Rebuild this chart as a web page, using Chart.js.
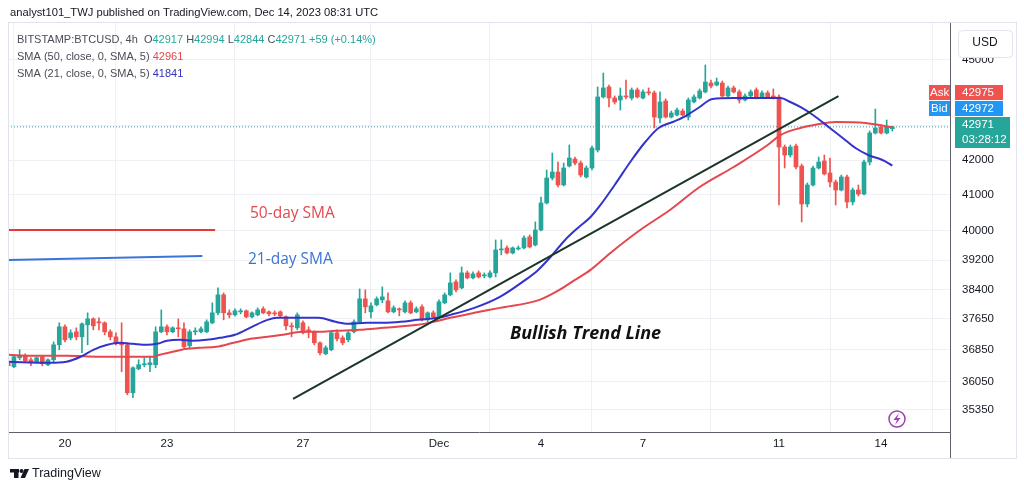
<!DOCTYPE html>
<html>
<head>
<meta charset="utf-8">
<script src="https://cdn.jsdelivr.net/npm/chart.js@4.4.1/dist/chart.umd.min.js"></script>
<style>
  html, body { margin: 0; padding: 0; background: #ffffff; }
  #wrap { width: 1024px; height: 491px; position: relative; }
</style>
</head>
<body>
<div id="wrap"><canvas id="btcChart"></canvas></div>
<script>
// BTCUSD 4h candles, Nov 18 08:00 .. Dec 14 08:00 (hours from Nov 20 00:00)
const startHour = -40;
const stepHours = 4;

const opens = [
  36544, 36418, 36645, 36695, 36594, 36544, 36670, 36469, 36594, 36974,
  37436, 37152, 37307, 37178, 37487, 37642, 37564, 37539, 37307, 37178,
  37025, 36974, 35771, 36368, 36469, 36469, 36469, 37307, 37436, 37307,
  37410, 37384, 36949, 37307, 37307, 37307, 37539, 37798, 38270, 37798,
  37746, 37824, 37850, 37694, 37746, 37902, 37824, 37798, 37824, 37694,
  37461, 37410, 37539, 37358, 37307, 37025, 36746, 36847, 37281, 37152,
  37101, 37307, 37564, 38164, 37824, 38007, 38138, 38112, 37824, 37902,
  37824, 38059, 37824, 37955, 37616, 37798, 37694, 38059, 38270, 38614,
  38454, 38854, 38720, 38854, 38774, 38747, 38854, 39474, 39529, 39393,
  39501, 39529, 39830, 39610, 40022, 40774, 41482, 41654, 41283, 41827,
  42029, 41913, 41511, 41769, 42290, 43867, 44170, 43836, 43775, 43897,
  43836, 44080, 43836, 44019, 43989, 43235, 43745, 43264, 43324, 43443,
  43264, 43715, 43836, 44019, 44290, 44230, 44290, 43897, 44140, 44019,
  43775, 43897, 44080, 43867, 43989, 43897, 43867, 42378, 42145, 42407,
  41827, 40746, 41283, 41769, 41971, 41625, 41368, 41140, 41511, 40802,
  41140, 41027, 41942, 42790, 42967, 42790, 42917
];
const highs = [
  36645, 36720, 36847, 36746, 36645, 36670, 36695, 36619, 37050, 37539,
  37487, 37358, 37410, 37539, 37798, 37668, 37668, 37564, 37358, 37281,
  37539, 37025, 36418, 36594, 36645, 36670, 37436, 37876, 37487, 37436,
  37642, 37539, 37358, 37410, 37436, 37616, 38059, 38454, 38322, 37876,
  37902, 37902, 37876, 37824, 37928, 37955, 37850, 37850, 37850, 37720,
  37539, 37798, 37590, 37436, 37332, 37050, 36949, 37307, 37358, 37204,
  37332, 37616, 38427, 38401, 38059, 38217, 38481, 38322, 37981, 37928,
  38112, 38112, 37955, 38007, 37824, 37850, 38138, 38322, 38854, 38667,
  39015, 38907, 38881, 38907, 38854, 38907, 39747, 39747, 39583, 39556,
  39583, 39857, 39885, 40244, 40943, 41711, 42203, 41942, 41913, 42437,
  42087, 41971, 41827, 42407, 44170, 44597, 44230, 43897, 44140, 44380,
  44140, 44140, 44080, 44140, 44050, 44019, 43806, 43443, 43533, 43503,
  43836, 43928, 44110, 44845, 44380, 44442, 44350, 44200, 44200, 44080,
  43958, 44080, 44140, 44050, 44050, 44110, 43928, 42437, 42437, 42466,
  41884, 41340, 41827, 42087, 42145, 42058, 41425, 41568, 41568, 41197,
  41283, 42000, 42849, 43503, 43027, 43175, 42994
];
const lows = [
  36443, 36393, 36594, 36519, 36443, 36519, 36443, 36443, 36544, 36847,
  37050, 37101, 37101, 36771, 36974, 37358, 37358, 37230, 37101, 36974,
  36293, 35722, 35648, 36343, 36418, 36293, 36393, 37281, 37230, 37281,
  37178, 36898, 36898, 37230, 37281, 37281, 37513, 37746, 37616, 37668,
  37720, 37772, 37668, 37668, 37720, 37772, 37720, 37720, 37694, 37358,
  37178, 37358, 37255, 37152, 36974, 36720, 36720, 36822, 37076, 36974,
  37050, 37281, 37539, 37798, 37668, 37981, 38059, 37798, 37798, 37720,
  37798, 37772, 37798, 37590, 37564, 37668, 37668, 38033, 38243, 38348,
  38427, 38694, 38694, 38720, 38720, 38720, 38747, 39339, 39366, 39366,
  39474, 39501, 39529, 39583, 39995, 40746, 41425, 41225, 41254, 41798,
  41856, 41511, 41482, 41711, 42232, 43836, 43564, 43654, 43473, 43806,
  43775, 43836, 43806, 43928, 42938, 43086, 43235, 43235, 43294, 43294,
  43175, 43684, 43806, 43989, 44140, 44200, 43867, 43867, 43989, 43684,
  43745, 43867, 43806, 43836, 43836, 43806, 40718, 41769, 42087, 41740,
  40244, 40662, 41254, 41740, 41568, 41225, 40718, 41112, 40633, 40718,
  40971, 40999, 41856, 42760, 42760, 42760, 42844
];
const closes = [
  36443, 36670, 36695, 36569, 36519, 36645, 36494, 36594, 36974, 37436,
  37101, 37281, 37178, 37513, 37642, 37461, 37539, 37307, 37178, 37025,
  36974, 35771, 36393, 36469, 36494, 36519, 37307, 37436, 37307, 37410,
  37384, 36923, 37307, 37332, 37384, 37564, 37798, 38270, 37798, 37746,
  37850, 37850, 37694, 37798, 37876, 37798, 37772, 37772, 37720, 37461,
  37436, 37746, 37281, 37307, 37025, 36771, 36898, 37281, 37127, 37025,
  37281, 37564, 38164, 37955, 37981, 38164, 38217, 37824, 37928, 37876,
  38059, 37798, 37902, 37616, 37798, 37694, 38086, 38270, 38587, 38401,
  38854, 38720, 38827, 38747, 38800, 38854, 39474, 39501, 39393, 39529,
  39529, 39802, 39556, 40022, 40774, 41482, 41654, 41283, 41769, 42058,
  41913, 41568, 41769, 42349, 43867, 44140, 43836, 43715, 43897, 43867,
  44080, 43867, 44019, 43989, 43264, 43715, 43264, 43384, 43473, 43324,
  43775, 43867, 44050, 44320, 44200, 44320, 43897, 44140, 44019, 43775,
  43897, 44019, 43836, 43989, 43867, 43867, 42378, 42145, 42378, 41798,
  40746, 41283, 41769, 41942, 41597, 41368, 41140, 41511, 40802, 41140,
  41027, 41942, 42790, 42938, 42790, 42967, 42971
];

// SMA 21 (blue) and SMA 50 (red)
const sma21Hours = [-40, -11, 1, 11, 20, 30, 39, 48, 58, 65,
  72, 81, 90, 100, 109, 120, 132, 143, 150, 167,
  179, 191, 200, 213, 225, 237, 249, 263, 272, 289,
  307, 325, 334, 344, 353, 362, 371, 378, 388, 400,
  409, 419, 429, 438, 447, 457, 472, 496, 505, 512,
  519, 528, 539, 549, 558, 567, 577, 584];
const sma21Values = [36544, 36519, 36544, 36670, 36847, 36974, 37025, 36999, 36974, 36999,
  37076, 37101, 37076, 37101, 37152, 37230, 37436, 37616, 37668, 37668,
  37668, 37564, 37513, 37539, 37539, 37564, 37616, 37668, 37746, 37928,
  38217, 38667, 38934, 39339, 39747, 40077, 40382, 40718, 41283, 42000,
  42495, 42938, 43116, 43294, 43533, 43806, 43836, 43836, 43836, 43715,
  43564, 43324, 42967, 42642, 42349, 42145, 42000, 41841];
const sma50Hours = [-40, -23, 1, 25, 48, 62, 67, 76, 86, 95,
  107, 119, 131, 143, 154, 167, 179, 191, 208, 225,
  249, 260, 272, 289, 307, 335, 349, 360, 371, 385,
  406, 427, 448, 472, 496, 505, 519, 529, 544, 565, 584];
const sma50Values = [36720, 36695, 36695, 36670, 36670, 36670, 36720, 36796, 36872, 36898,
  36923, 37025, 37127, 37178, 37230, 37307, 37307, 37332, 37358, 37410,
  37487, 37564, 37668, 37798, 37928, 38138, 38400, 38667, 38934, 39393,
  40022, 40577, 41225, 41798, 42437, 42730, 42938, 43027, 43116, 43086, 42961];

// drawn-on lines
const trendHours = [161, 546];
const trendValues = [35618, 43895];
const note50Hours = [-41, 106];
const note50Values = [40022, 40022];
const note21Hours = [-41, 97];
const note21Values = [39203, 39310];

// axes
const dayTickHours = [0, 72, 168, 264, 336, 408, 504, 576];
const dayTickLabels = ["20", "23", "27", "Dec", "4", "7", "11", "14"];
const priceTicks = [35350, 36050, 36850, 37650, 38400, 39200, 40000, 41000, 42000, 43000, 45000];
const hiddenPriceTicks = [43000];

const GREEN = "#26a69a";
const RED = "#ef5350";

const last = closes.length - 1;
const candleX = opens.map((o, i) => startHour + i * stepHours);
const isUp = opens.map((o, i) => closes[i] >= o);
const candleColors = isUp.map(u => (u ? GREEN : RED));

const bodyData = opens.map((o, i) => ({ x: candleX[i], y: [Math.min(o, closes[i]), Math.max(o, closes[i])] }));
const wickData = opens.map((o, i) => ({ x: candleX[i], y: [lows[i], highs[i]] }));
const toPoints = (xs, ys) => xs.map((x, i) => ({ x: x, y: ys[i] }));

function drawRuns(ctx, x, y, runs) {
    runs.forEach(r => {
        ctx.fillStyle = r[1];
        ctx.fillText(r[0], x, y);
        x += ctx.measureText(r[0]).width;
    });
}

function roundRect(ctx, x, y, w, h, r) {
    ctx.beginPath();
    ctx.moveTo(x + r, y);
    ctx.lineTo(x + w - r, y);
    ctx.quadraticCurveTo(x + w, y, x + w, y + r);
    ctx.lineTo(x + w, y + h - r);
    ctx.quadraticCurveTo(x + w, y + h, x + w - r, y + h);
    ctx.lineTo(x + r, y + h);
    ctx.quadraticCurveTo(x, y + h, x, y + h - r);
    ctx.lineTo(x, y + r);
    ctx.quadraticCurveTo(x, y, x + r, y);
    ctx.closePath();
}

const priceLinePlugin = {
    id: "priceLine",
    beforeDatasetsDraw(chart) {
        const ctx = chart.ctx;
        const area = chart.chartArea;
        const y = chart.scales.y.getPixelForValue(closes[last]);
        ctx.save();
        ctx.strokeStyle = "#3c96b4";
        ctx.lineWidth = 1;
        ctx.setLineDash([1, 2]);
        ctx.beginPath();
        ctx.moveTo(area.left, y);
        ctx.lineTo(area.right, y);
        ctx.stroke();
        ctx.restore();
    }
};

const decorPlugin = {
    id: "decor",
    afterDraw(chart) {
        const ctx = chart.ctx;
        const area = chart.chartArea;
        ctx.save();

        // outer frame and axis separator through the time row
        ctx.strokeStyle = "#e0e3eb";
        ctx.lineWidth = 1;
        ctx.strokeRect(8.5, 22.5, 1008, 436);
        ctx.strokeStyle = "#5d606b";
        ctx.beginPath();
        ctx.moveTo(area.right + 0.5, area.bottom);
        ctx.lineTo(area.right + 0.5, 458);
        ctx.stroke();

        // header
        ctx.textBaseline = "middle";
        ctx.font = "11.2px 'Liberation Sans', Arial, sans-serif";
        ctx.fillStyle = "#131722";
        ctx.fillText("analyst101_TWJ published on TradingView.com, Dec 14, 2023 08:31 UTC", 10, 13);

        // legend
        const gray = "#4a4d57";
        const teal = "#26a69a";
        ctx.font = "11px 'Liberation Sans', Arial, sans-serif";
        drawRuns(ctx, 17, 40, [
            ["BITSTAMP:BTCUSD, 4h  O", gray], [String(opens[last]), teal],
            [" H", gray], [String(highs[last]), teal],
            [" L", gray], [String(lows[last]), teal],
            [" C", gray], [String(closes[last]), teal],
            [" +59 (+0.14%)", teal]
        ]);
        drawRuns(ctx, 17, 57, [["SMA (50, close, 0, SMA, 5) ", gray], [String(sma50Values[sma50Values.length - 1]), "#e4474d"]]);
        drawRuns(ctx, 17, 74, [["SMA (21, close, 0, SMA, 5) ", gray], [String(sma21Values[sma21Values.length - 1]), "#3333bb"]]);

        // annotations
        ctx.font = "15.5px 'Open Sans', sans-serif";
        ctx.fillStyle = "#e04a4f";
        ctx.fillText("50-day SMA", 250, 214);
        ctx.fillStyle = "#3c74d6";
        ctx.fillText("21-day SMA", 248, 260);
        ctx.font = "italic bold 18px 'Open Sans', sans-serif";
        ctx.fillStyle = "#111111";
        ctx.fillText("Bullish Trend Line", 510, 334);

        // USD button
        ctx.fillStyle = "#ffffff";
        roundRect(ctx, 958.5, 30.5, 54, 27, 4);
        ctx.fill();
        ctx.strokeStyle = "#e0e3eb";
        ctx.stroke();
        ctx.fillStyle = "#131722";
        ctx.font = "12px 'Liberation Sans', Arial, sans-serif";
        ctx.textAlign = "center";
        ctx.fillText("USD", 985, 43);

        // price labels
        ctx.font = "11.5px 'Liberation Sans', Arial, sans-serif";
        ctx.textAlign = "left";
        ctx.fillStyle = "#ef5350";
        ctx.fillRect(929, 85, 21, 15);
        ctx.fillRect(955, 85, 48, 15);
        ctx.fillStyle = "#2196f3";
        ctx.fillRect(929, 101, 21, 15);
        ctx.fillRect(955, 101, 48, 15);
        ctx.fillStyle = GREEN;
        ctx.fillRect(955, 117, 55, 31);
        ctx.fillStyle = "#ffffff";
        ctx.fillText("Ask", 930, 93);
        ctx.fillText("42975", 962, 93);
        ctx.fillText("Bid", 931, 109);
        ctx.fillText("42972", 962, 109);
        ctx.fillText(String(closes[last]), 962, 125);
        ctx.fillText("03:28:12", 962, 140);

        // lightning badge
        ctx.strokeStyle = "#9c3fb0";
        ctx.lineWidth = 1.5;
        ctx.beginPath();
        ctx.arc(897, 419, 8, 0, Math.PI * 2);
        ctx.stroke();
        ctx.fillStyle = "#9c3fb0";
        ctx.beginPath();
        ctx.moveTo(899, 413);
        ctx.lineTo(893.5, 420);
        ctx.lineTo(897, 420);
        ctx.lineTo(895, 425);
        ctx.lineTo(900.5, 418);
        ctx.lineTo(897, 418);
        ctx.closePath();
        ctx.fill();

        // TradingView logo
        ctx.fillStyle = "#131722";
        ctx.fillRect(10, 469, 9, 3.5);
        ctx.fillRect(14, 469, 4.5, 9);
        ctx.beginPath();
        ctx.arc(21.5, 471, 2, 0, Math.PI * 2);
        ctx.fill();
        ctx.beginPath();
        ctx.moveTo(24.5, 469);
        ctx.lineTo(29, 469);
        ctx.lineTo(25, 478);
        ctx.lineTo(20.5, 478);
        ctx.closePath();
        ctx.fill();
        ctx.font = "12.5px 'Liberation Sans', Arial, sans-serif";
        ctx.fillText("TradingView", 32, 474);

        ctx.restore();
    }
};

function renderChart() {
    const ctx = document.getElementById("btcChart").getContext("2d");
    new Chart(ctx, {
        type: "bar",
        data: {
            datasets: [
                {
                    type: "line", label: "Trend", data: toPoints(trendHours, trendValues),
                    borderColor: "#1b3529", borderWidth: 2, pointRadius: 0, order: 0
                },
                {
                    type: "line", label: "SMA 21", data: toPoints(sma21Hours, sma21Values),
                    borderColor: "#3333cc", borderWidth: 2, pointRadius: 0,
                    cubicInterpolationMode: "monotone", order: 1
                },
                {
                    type: "line", label: "SMA 50", data: toPoints(sma50Hours, sma50Values),
                    borderColor: "#e4474d", borderWidth: 2, pointRadius: 0,
                    cubicInterpolationMode: "monotone", order: 2
                },
                {
                    type: "line", label: "50-day note", data: toPoints(note50Hours, note50Values),
                    borderColor: "#e53935", borderWidth: 2, pointRadius: 0, order: 1
                },
                {
                    type: "line", label: "21-day note", data: toPoints(note21Hours, note21Values),
                    borderColor: "#3c74d6", borderWidth: 2, pointRadius: 0, order: 1
                },
                {
                    label: "Body", data: bodyData, backgroundColor: candleColors,
                    barThickness: 4, minBarLength: 1, grouped: false, order: 4
                },
                {
                    label: "Wick", data: wickData, backgroundColor: candleColors,
                    barThickness: 1, grouped: false, order: 5
                }
            ]
        },
        options: {
            responsive: true,
            maintainAspectRatio: false,
            animation: false,
            layout: { padding: { left: 8, top: 22, right: 0, bottom: 33 } },
            plugins: {
                legend: { display: false },
                tooltip: { enabled: false }
            },
            scales: {
                x: {
                    type: "linear",
                    min: -40.2,
                    max: 624.7,
                    offset: false,
                    afterBuildTicks: axis => { axis.ticks = dayTickHours.map(v => ({ value: v })); },
                    afterFit: axis => { axis.height = 26; },
                    ticks: {
                        autoSkip: false,
                        maxRotation: 0,
                        padding: 5,
                        color: "#131722",
                        font: { family: "'Liberation Sans', Arial, sans-serif", size: 11.5 },
                        callback: v => dayTickLabels[dayTickHours.indexOf(v)]
                    },
                    grid: { color: "#eef0f5", drawTicks: false },
                    border: { display: true, color: "#5d606b" }
                },
                y: {
                    type: "logarithmic",
                    position: "right",
                    min: 34816,
                    max: 46194,
                    afterBuildTicks: axis => { axis.ticks = priceTicks.map(v => ({ value: v })); },
                    afterFit: axis => { axis.width = 74; },
                    ticks: {
                        padding: 12,
                        color: "#131722",
                        font: { family: "'Liberation Sans', Arial, sans-serif", size: 11.5 },
                        callback: v => (hiddenPriceTicks.includes(v) ? "" : String(v))
                    },
                    grid: { color: "#eef0f5", drawTicks: false },
                    border: { display: true, color: "#5d606b" }
                }
            }
        },
        plugins: [priceLinePlugin, decorPlugin]
    });
}

document.addEventListener("DOMContentLoaded", renderChart);
</script>
</body>
</html>
